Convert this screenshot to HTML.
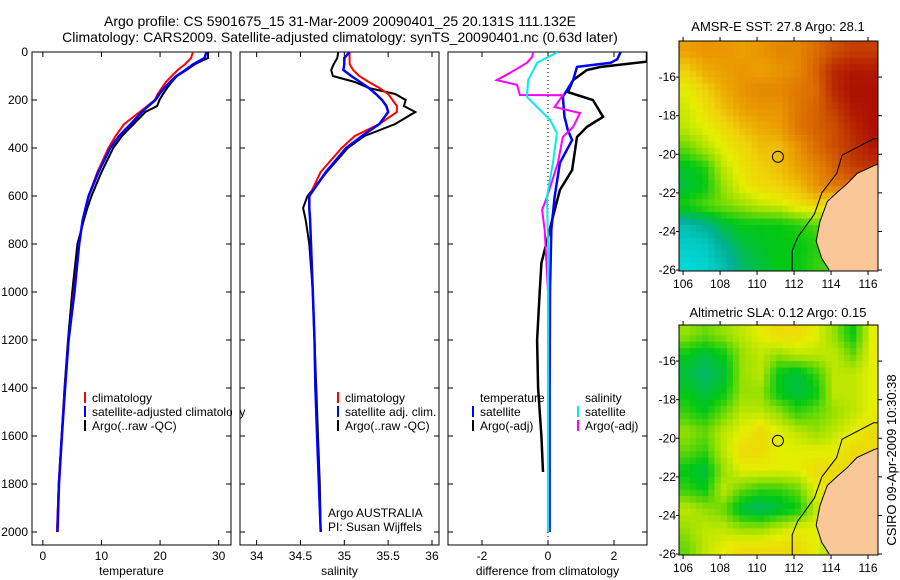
<!DOCTYPE html>
<html><head><meta charset="utf-8"><style>
html,body{margin:0;padding:0;background:#fff;}
svg{display:block;font-family:"Liberation Sans",sans-serif;}
</style></head><body>
<svg id="fig" width="900" height="580" viewBox="0 0 900 580" xmlns="http://www.w3.org/2000/svg">
<text x="340" y="26" font-size="14" text-anchor="middle">Argo profile: CS 5901675_15 31-Mar-2009 20090401_25 20.131S 111.132E</text>
<text x="340" y="42" font-size="14" text-anchor="middle">Climatology: CARS2009. Satellite-adjusted climatology: synTS_20090401.nc (0.63d later)</text>
<text x="778" y="31" font-size="13" text-anchor="middle">AMSR-E SST: 27.8 Argo: 28.1</text>
<text x="778" y="317" font-size="13" text-anchor="middle">Altimetric SLA: 0.12 Argo: 0.15</text>
<text transform="translate(896,460) rotate(-90)" font-size="13" text-anchor="middle">CSIRO 09-Apr-2009 10:30:38</text>
</svg>
<script>
// ---- profile data ----
const depths = [0,25,50,75,100,125,150,175,200,225,250,300,350,400,500,600,650,700,800,1000,1200,1400,1600,1800,2000];
const tempClim = [25.6,25.3,24.3,23.0,22.0,21.0,20.3,19.6,19.1,17.8,16.5,13.9,12.4,11.2,9.3,7.8,7.3,6.8,6.2,5.3,4.4,3.75,3.2,2.7,2.4];
const tempSat  = [27.9,27.6,25.7,24.3,22.8,21.7,20.7,19.9,19.2,18.0,16.9,15.0,13.0,11.5,9.5,7.8,7.3,6.8,6.2,5.4,4.4,3.8,3.25,2.75,2.5];
const tempArgo = [28.2,28.2,26.0,24.5,22.9,22.0,21.2,20.5,19.9,19.5,17.5,15.5,13.5,12.0,10.0,8.3,7.6,7.0,5.9,5.0,4.3,3.7,3.2,2.7,2.45];
const salClim = [35.06,35.06,35.06,35.1,35.17,35.28,35.4,35.5,35.55,35.6,35.6,35.4,35.12,34.97,34.73,34.6,34.6,34.61,34.62,34.64,34.66,34.67,34.69,34.71,34.73];
const salSat  = [35.06,35.0,35.0,34.99,35.08,35.18,35.28,35.36,35.43,35.48,35.5,35.4,35.2,35.02,34.79,34.6,34.6,34.61,34.62,34.64,34.66,34.67,34.69,34.71,34.73];
const salArgo = [34.93,34.92,34.88,34.85,34.87,35.12,35.28,35.58,35.7,35.68,35.81,35.58,35.23,35.04,34.8,34.58,34.53,34.56,34.6,34.64,34.66,34.68,34.7,34.72,34.73];
const dTempArgoDepth = [0,10,40,62,75,117,167,200,270,312,354,492,575,687,880,1000,1200,1400,1600,1750];
const dTempArgoVal = [3.0,3.0,3.0,1.6,1.18,0.76,0.6,1.36,1.67,1.18,0.88,0.73,0.36,0.15,-0.2,-0.25,-0.33,-0.3,-0.2,-0.15];
const dTempSatDepth = [0,30,45,62,117,187,270,325,367,462,604,742,1000,1400,2000];
const dTempSatVal = [2.2,2.1,1.9,0.88,0.76,0.45,0.5,0.6,0.73,0.36,0.2,0.1,0.06,0.05,0.05];
const dSalArgoDepth = [0,20,45,87,117,137,179,180,229,254,312,354,462,604,658,742,1000,1400,1750];
const dSalArgoVal = [-0.45,-0.48,-0.64,-1.15,-1.55,-0.94,-0.85,0.45,0.2,0.97,0.76,0.45,0.3,-0.03,-0.18,-0.1,0,0,0];
const dSalSatDepth = [0,45,117,187,242,283,338,462,604,800,1200,2000];
const dSalSatVal = [0.3,-0.33,-0.6,-0.64,-0.24,0.06,0.27,0.15,-0.03,0.0,0.0,0.0];
const depthTicks = [0,200,400,600,800,1000,1200,1400,1600,1800,2000];
const tempTicks = [0,10,20,30];
const salTicks = [34,34.5,35,35.5,36];
const diffTicks = [-2,0,2];
// ---- map data (rows lat -14.5..-25.5, cols lon 106..116) ----
const mapLats = [-14.5,-15.5,-16.5,-17.5,-18.5,-19.5,-20.5,-21.5,-22.5,-23.5,-24.5,-25.5];
const mapLons = [106,107,108,109,110,111,112,113,114,115,116];
const sstGrid = [
[0.70,0.72,0.72,0.70,0.72,0.75,0.75,0.80,0.85,0.88,0.88],
[0.62,0.68,0.70,0.72,0.70,0.72,0.75,0.82,0.92,0.95,0.95],
[0.55,0.62,0.68,0.72,0.75,0.75,0.78,0.80,0.92,0.97,0.97],
[0.52,0.58,0.65,0.70,0.72,0.72,0.78,0.82,0.88,0.95,0.97],
[0.50,0.55,0.60,0.65,0.68,0.70,0.78,0.82,0.85,0.92,0.97],
[0.40,0.48,0.55,0.60,0.65,0.65,0.72,0.80,0.85,0.90,0.95],
[0.28,0.33,0.50,0.58,0.62,0.65,0.70,0.75,0.82,0.88,0.90],
[0.26,0.30,0.45,0.55,0.60,0.62,0.65,0.72,0.78,0.80,0.80],
[0.33,0.38,0.42,0.45,0.50,0.52,0.58,0.62,0.55,0.6,0.6],
[0.10,0.15,0.25,0.30,0.30,0.30,0.33,0.38,0.4,0.4,0.4],
[0.04,0.05,0.15,0.25,0.28,0.30,0.30,0.33,0.35,0.35,0.35],
[0.0,0.02,0.10,0.20,0.25,0.30,0.30,0.35,0.38,0.38,0.38]];
const slaGrid = [
[0.45,0.40,0.45,0.50,0.55,0.60,0.60,0.55,0.45,0.30,0.55],
[0.30,0.25,0.30,0.45,0.50,0.45,0.50,0.50,0.50,0.40,0.55],
[0.25,0.20,0.25,0.45,0.50,0.30,0.25,0.35,0.50,0.50,0.55],
[0.30,0.25,0.30,0.45,0.45,0.30,0.25,0.30,0.50,0.50,0.55],
[0.35,0.30,0.40,0.50,0.50,0.45,0.35,0.40,0.45,0.50,0.55],
[0.45,0.40,0.50,0.55,0.60,0.55,0.50,0.45,0.50,0.55,0.60],
[0.40,0.35,0.50,0.60,0.60,0.55,0.55,0.55,0.55,0.60,0.60],
[0.30,0.25,0.45,0.55,0.55,0.55,0.55,0.60,0.60,0.60,0.60],
[0.35,0.30,0.50,0.40,0.35,0.35,0.40,0.55,0.60,0.60,0.60],
[0.50,0.45,0.40,0.25,0.20,0.25,0.30,0.50,0.55,0.60,0.60],
[0.45,0.50,0.50,0.45,0.45,0.50,0.55,0.55,0.50,0.60,0.60],
[0.40,0.50,0.55,0.60,0.60,0.60,0.60,0.55,0.45,0.60,0.60]];
const landLon = [116.6,116.3,115.4,114.9,114.3,113.8,113.4,113.2,113.5,113.9,114.1,116.6];
const landLat = [-20.5,-20.6,-21.0,-21.5,-22.0,-22.45,-23.5,-24.5,-25.4,-26.0,-26.2,-26.2];
const coastLon = [116.6,116.3,114.6,114.3,113.5,113.1,112.2,111.9,111.9];
const coastLat = [-19.2,-19.2,-20.05,-21.0,-22.0,-23.1,-24.3,-25.0,-26.1];
const mapTicksLon = [106,108,110,112,114,116];
const mapTicksLat = [-16,-18,-20,-22,-24,-26];
const argoLon = 111.13, argoLat = -20.13;

const NS = "http://www.w3.org/2000/svg";
const svg = document.getElementById('fig');
function mk(tag, attrs, parent){const e=document.createElementNS(NS,tag);for(const k in attrs)e.setAttribute(k,attrs[k]);(parent||svg).appendChild(e);return e;}

const PT=52, PB=545, yD = d => 52 + d*0.24;
const panels = [
 {x0:32,x1:231,vmin:-1.85,vmax:32.1,ticks:tempTicks,label:'temperature',name:'temperature-panel'},
 {x0:240,x1:439,vmin:33.81,vmax:36.08,ticks:salTicks,label:'salinity',name:'salinity-panel'},
 {x0:448,x1:647,vmin:-3.03,vmax:3.0,ticks:diffTicks,label:'difference from climatology',name:'difference-panel'}];
panels.forEach(p=>{p.sx=v=>p.x0+(v-p.vmin)/(p.vmax-p.vmin)*(p.x1-p.x0);});

let cid=0;
function drawLine(p, vals, ds, color, name, w){
  const id='clip'+(cid++);
  const cp=mk('clipPath',{id:id}); mk('rect',{x:p.x0,y:PT,width:p.x1-p.x0,height:PB-PT},cp);
  const pts=vals.map((v,i)=>p.sx(v).toFixed(1)+','+yD(ds[i]).toFixed(1)).join(' ');
  const l=mk('polyline',{points:pts,fill:'none',stroke:color,'stroke-width':w||2,'clip-path':'url(#'+id+')'});
  
  
}

panels.forEach((p,pi)=>{
  const g=mk('g',{});
  
  
  mk('rect',{x:p.x0,y:PT,width:p.x1-p.x0,height:PB-PT,fill:'none',stroke:'#000','stroke-width':1},g);
  p.ticks.forEach(t=>{const x=p.sx(t);
    mk('line',{x1:x,x2:x,y1:PB,y2:PB-5,stroke:'#000'},g);
    mk('line',{x1:x,x2:x,y1:PT,y2:PT+5,stroke:'#000'},g);
    const tx=mk('text',{x:x,y:PB+15,'font-size':12,'text-anchor':'middle'},g); tx.textContent=t;
    
    
  });
  depthTicks.forEach(d=>{const y=yD(d);
    mk('line',{x1:p.x0,x2:p.x0+5,y1:y,y2:y,stroke:'#000'},g);
    mk('line',{x1:p.x1,x2:p.x1-5,y1:y,y2:y,stroke:'#000'},g);
    if(pi===0){const tx=mk('text',{x:p.x0-4,y:y+4,'font-size':12,'text-anchor':'end'},g);tx.textContent=d;
      
      }
  });
  const xl=mk('text',{x:(p.x0+p.x1)/2,y:575,'font-size':12,'text-anchor':'middle'},g); xl.textContent=p.label;
  
  
});
mk('line',{x1:panels[2].sx(0),x2:panels[2].sx(0),y1:PT,y2:PB,stroke:'#000','stroke-dasharray':'1,3'});

drawLine(panels[0],tempArgo,depths,'#000','temp-argo-line');
drawLine(panels[0],tempClim,depths,'#f00','temp-climatology-line');
drawLine(panels[0],tempSat,depths,'#00f','temp-satellite-line',2.5);
drawLine(panels[1],salArgo,depths,'#000','sal-argo-line');
drawLine(panels[1],salClim,depths,'#f00','sal-climatology-line');
drawLine(panels[1],salSat,depths,'#00f','sal-satellite-line',2.5);
drawLine(panels[2],dTempArgoVal,dTempArgoDepth,'#000','dtemp-argo-line',2.5);
drawLine(panels[2],dTempSatVal,dTempSatDepth,'#00f','dtemp-satellite-line',2.5);
drawLine(panels[2],dSalArgoVal,dSalArgoDepth,'#f0f','dsal-argo-line');
drawLine(panels[2],dSalSatVal,dSalSatDepth,'#0ee','dsal-satellite-line');

function legend(x,y,color,text,name){
  const g=mk('g',{});
  
  
  if(color) mk('rect',{x:x,y:y-10,width:2,height:11,fill:color},g);
  const t=mk('text',{x:x+8,y:y,'font-size':12},g); t.textContent=text;
}
legend(84,402,'#f00','climatology','legend-climatology');
legend(84,416,'#00f','satellite-adjusted climatology','legend-satellite');
legend(84,430,'#000','Argo(..raw -QC)','legend-argo');
legend(337,402,'#f00','climatology','legend-sal-climatology');
legend(337,416,'#00f','satellite adj. clim.','legend-sal-satellite');
legend(337,430,'#000','Argo(..raw -QC)','legend-sal-argo');
legend(320,517,null,'Argo AUSTRALIA','argo-agency-note');
legend(320,531,null,'PI: Susan Wijffels','pi-note');
legend(472,402,null,'temperature','legend-temperature-header');
legend(472,416,'#00f','satellite','legend-dtemp-satellite');
legend(472,430,'#000','Argo(-adj)','legend-dtemp-argo');
legend(577,402,null,'salinity','legend-salinity-header');
legend(577,416,'#0ee','satellite','legend-dsal-satellite');
legend(577,430,'#f0f','Argo(-adj)','legend-dsal-argo');
mk('rect',{x:232,y:403,width:7,height:16,fill:'#fff'});
mk('line',{x1:231,x2:231,y1:400,y2:422,stroke:'#000'});

// ---- maps ----
const stops=[[0,[0,216,216]],[0.15,[0,176,150]],[0.3,[0,200,20]],[0.45,[150,224,0]],[0.55,[228,238,0]],[0.62,[240,210,10]],[0.7,[236,160,0]],[0.8,[220,110,0]],[0.9,[190,50,0]],[1,[165,0,0]]];
function cmap(v){v=Math.max(0,Math.min(1,v));for(let i=1;i<stops.length;i++){if(v<=stops[i][0]){const a=stops[i-1],b=stops[i],t=(v-a[0])/(b[0]-a[0]);return 'rgb('+a[1].map((c,k)=>Math.round(c+(b[1][k]-c)*t)).join(',')+')';}}return 'rgb(165,0,0)';}
function interp(grid,r,c){r=Math.max(0,Math.min(grid.length-1,r));c=Math.max(0,Math.min(grid[0].length-1,c));
 const r0=Math.floor(r),c0=Math.floor(c),r1=Math.min(r0+1,grid.length-1),c1=Math.min(c0+1,grid[0].length-1),fr=r-r0,fc=c-c0;
 return grid[r0][c0]*(1-fr)*(1-fc)+grid[r0][c1]*(1-fr)*fc+grid[r1][c0]*fr*(1-fc)+grid[r1][c1]*fr*fc;}
function drawMap(grid,y0,y1,name){
  const x0=679,x1=878,lon0=105.78,lon1=116.54,lat0=-14.13,lat1=-26.05;
  const sx=l=>x0+(l-lon0)/(lon1-lon0)*(x1-x0), sy=l=>y0+(l-lat0)/(lat1-lat0)*(y1-y0);
  const g=mk('g',{});
  
  
  const id='mclip'+(cid++);
  const cp=mk('clipPath',{id:id}); mk('rect',{x:x0,y:y0,width:x1-x0,height:y1-y0},cp);
  const cells=mk('g',{'clip-path':'url(#'+id+')'},g);
  const step=1/3;
  for(let lat=-14.0;lat>-26.3;lat-=step){
    for(let lon=105.7;lon<116.7;lon+=step){
      const r=(mapLats[0]-lat)/(mapLats[0]-mapLats[1]), c=(lon-mapLons[0])/(mapLons[1]-mapLons[0]);
      const v=interp(grid,r,c);
      const cell=mk('rect',{x:sx(lon).toFixed(1),y:sy(lat).toFixed(1),width:(sx(lon+step)-sx(lon)+0.6).toFixed(1),height:(sy(lat-step)-sy(lat)+0.6).toFixed(1),fill:cmap(v)},cells);
      
      
    }
  }
  const land=mk('polygon',{points:landLon.map((l,i)=>sx(l).toFixed(1)+','+sy(landLat[i]).toFixed(1)).join(' '),fill:'#fac898'},cells);
  
  
  mk('polyline',{points:landLon.slice(0,10).map((l,i)=>sx(l).toFixed(1)+','+sy(landLat[i]).toFixed(1)).join(' '),fill:'none',stroke:'#000','stroke-width':1},cells);
  const coast=mk('polyline',{points:coastLon.map((l,i)=>sx(l).toFixed(1)+','+sy(coastLat[i]).toFixed(1)).join(' '),fill:'none',stroke:'#000','stroke-width':1},cells);
  
  
  const circ=mk('circle',{cx:sx(argoLon),cy:sy(argoLat),r:5.5,fill:'none',stroke:'#000','stroke-width':1},g);
  
  
  mk('rect',{x:x0,y:y0,width:x1-x0,height:y1-y0,fill:'none',stroke:'#000'},g);
  mapTicksLon.forEach(l=>{const x=sx(l);
    mk('line',{x1:x,x2:x,y1:y1,y2:y1+4,stroke:'#000'},g);
    mk('line',{x1:x,x2:x,y1:y0,y2:y0-4,stroke:'#000'},g);
    const t=mk('text',{x:x,y:y1+17,'font-size':12,'text-anchor':'middle'},g);t.textContent=l;
    
    });
  mapTicksLat.forEach(l=>{const y=sy(l);
    mk('line',{x1:x0,x2:x0-3,y1:y,y2:y,stroke:'#000'},g);
    mk('line',{x1:x1,x2:x1+4,y1:y,y2:y,stroke:'#000'},g);
    const t=mk('text',{x:x0-3,y:y+4,'font-size':12,'text-anchor':'end'},g);t.textContent=l;
    
    });
}
drawMap(sstGrid,41,271,'sst-map');
drawMap(slaGrid,325,555,'sla-map');
</script>
</body></html>
